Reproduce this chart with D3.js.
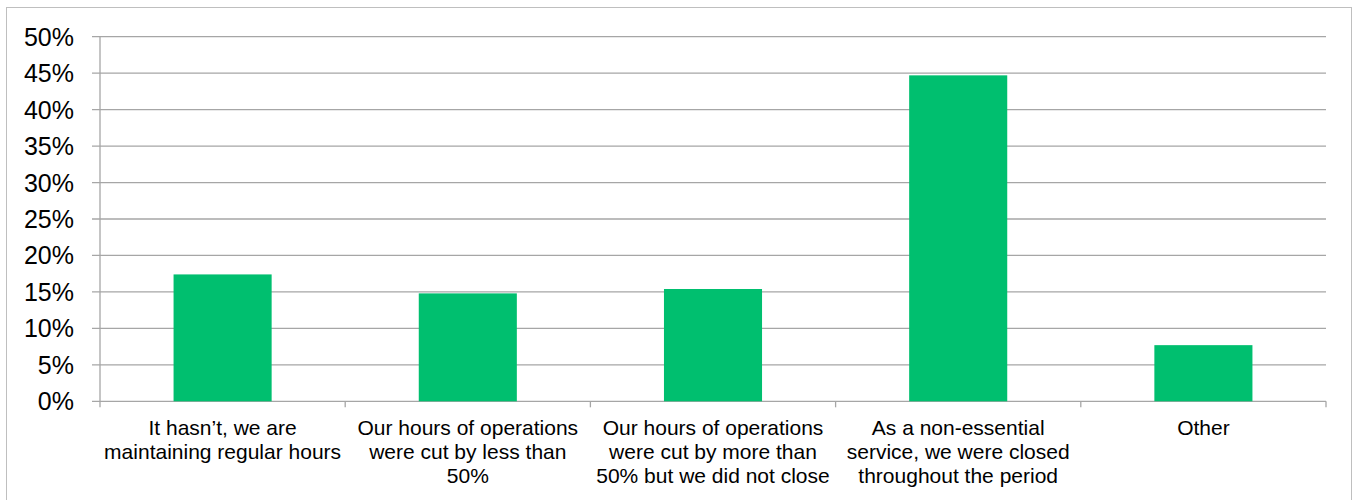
<!DOCTYPE html>
<html><head><meta charset="utf-8">
<script src="https://cdn.jsdelivr.net/npm/d3@7"></script>
<style>body{margin:0;background:#fff}svg{display:block}text{font-family:"Liberation Sans",Arial,sans-serif;fill:#000}</style>
</head><body><svg id="c" width="1357" height="500"></svg>
<script>
const categories = [
  ["It hasn\u2019t, we are", "maintaining regular hours"],
  ["Our hours of operations", "were cut by less than", "50%"],
  ["Our hours of operations", "were cut by more than", "50% but we did not close"],
  ["As a non-essential", "service, we were closed", "throughout the period"],
  ["Other"]
];
const values = [17.4, 14.8, 15.4, 44.7, 7.7];
const yTicks = [0, 5, 10, 15, 20, 25, 30, 35, 40, 45, 50];

(function () {
const svg = d3.select("#c");
svg.append("rect").attr("x", 6.5).attr("y", 7.5).attr("width", 1345).attr("height", 500)
  .attr("fill", "#fff").attr("stroke", "#BFBFBF").attr("stroke-width", 1);

const pLeft = 100, pRight = 1326, pTop = 36.7, pBottom = 401.3;
const x = d3.scaleBand().domain(d3.range(values.length)).range([pLeft, pRight]).paddingInner(0.6).paddingOuter(0.3);
const xb = d3.scaleBand().domain(d3.range(values.length)).range([pLeft, pRight]);
const y = d3.scaleLinear().domain([0, 50]).range([pBottom, pTop]);

const g = svg.append("g");
g.selectAll("line.grid").data(yTicks).join("line")
  .attr("x1", pLeft - 8).attr("x2", pRight).attr("y1", d => y(d)).attr("y2", d => y(d))
  .attr("stroke", "#A6A6A6").attr("stroke-width", 1.3);
g.append("line").attr("x1", pLeft).attr("x2", pLeft).attr("y1", pTop).attr("y2", pBottom)
  .attr("stroke", "#A6A6A6").attr("stroke-width", 1.3);
const xt = d3.range(values.length + 1).map(i => i < values.length ? xb(i) : pRight);
g.selectAll("line.xt").data(xt).join("line")
  .attr("x1", d => d).attr("x2", d => d).attr("y1", pBottom).attr("y2", pBottom + 6)
  .attr("stroke", "#A6A6A6").attr("stroke-width", 1.3);

g.selectAll("rect.bar").data(values).join("rect")
  .attr("x", (d, i) => x(i)).attr("width", x.bandwidth())
  .attr("y", d => y(d)).attr("height", d => pBottom - y(d))
  .attr("fill", "#00BF6F");

g.selectAll("text.yl").data(yTicks).join("text")
  .attr("x", 74).attr("y", d => y(d)).attr("dy", "0.36em")
  .attr("text-anchor", "end").attr("font-size", 25)
  .text(d => d + "%");

categories.forEach((lines, i) => {
  const cx = xb(i) + xb.bandwidth() / 2;
  const t = g.append("text").attr("text-anchor", "middle").attr("font-size", 21);
  lines.forEach((l, j) => {
    t.append("tspan").attr("x", cx).attr("y", 435 + j * 24).text(l);
  });
});
})();
</script></body></html>
